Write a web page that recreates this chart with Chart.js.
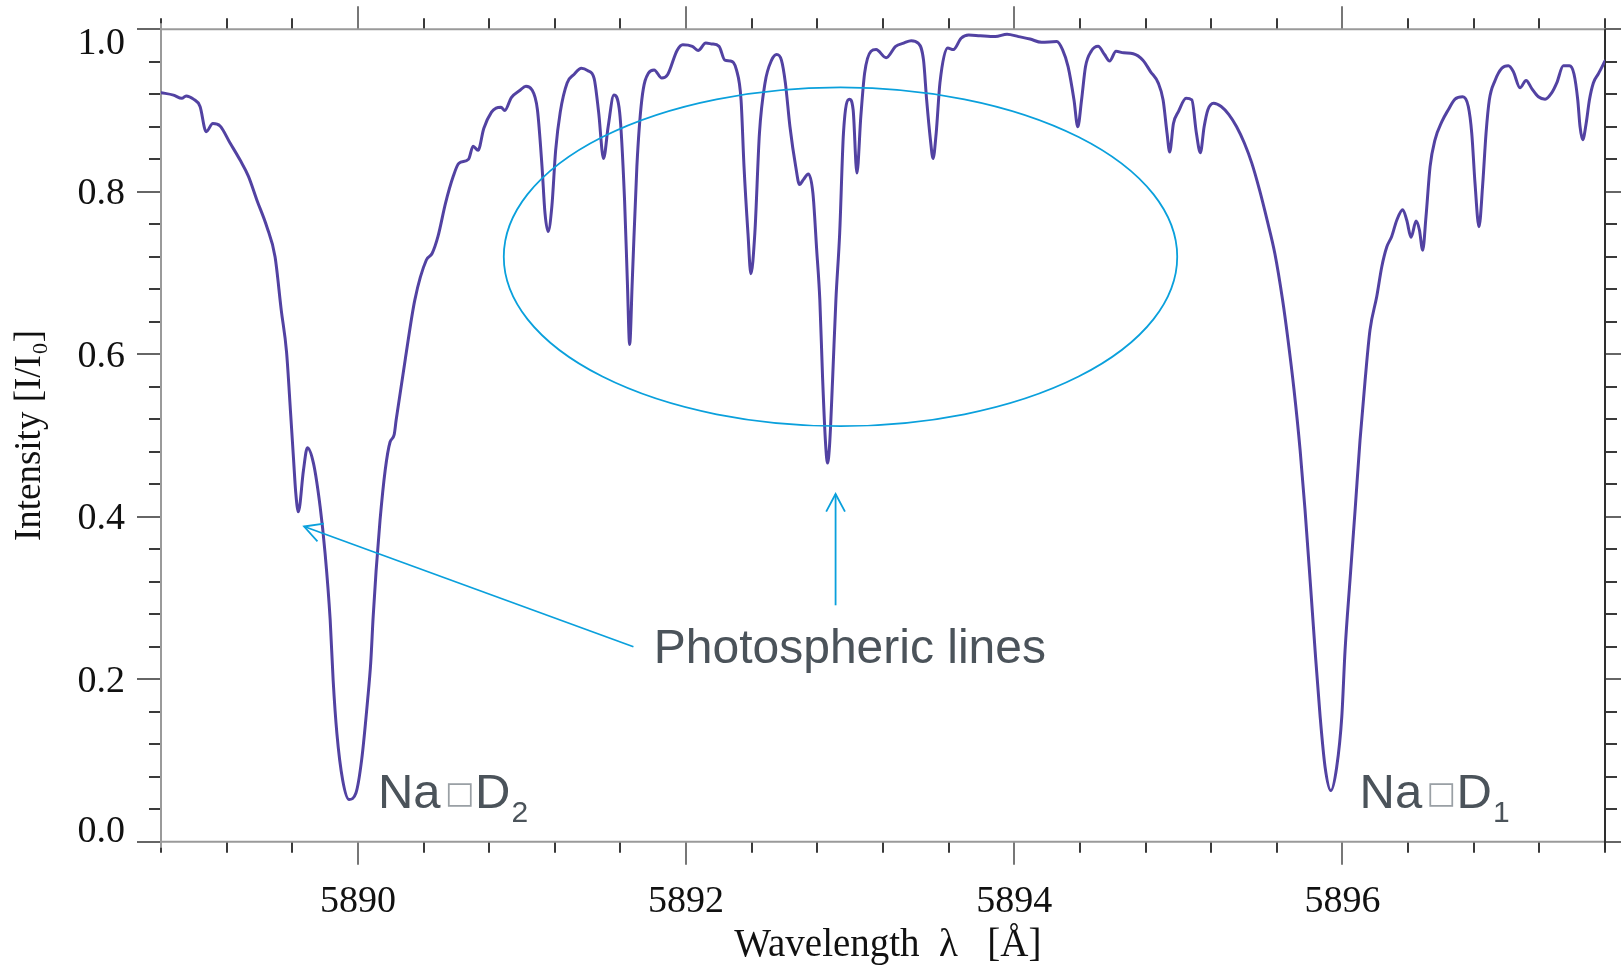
<!DOCTYPE html>
<html><head><meta charset="utf-8">
<script src="https://cdn.jsdelivr.net/npm/chart.js@4.4.1/dist/chart.umd.min.js"></script>
<style>html,body{margin:0;padding:0;background:#fff;}canvas{display:block;}</style>
</head><body>
<canvas id="c" width="1621" height="966"></canvas>
<script>
// ---- data ----
const wavelength = [
5888.80,5888.876,5888.927,5888.953,5888.998,5889.038,5889.075,5889.116,5889.160,5889.221,
5889.282,5889.333,5889.384,5889.445,5889.495,5889.533,5889.565,5889.590,5889.608,5889.621,5889.637,
5889.668,5889.692,5889.729,5889.770,5889.800,5889.831,5889.849,5889.872,5889.907,5889.946,
5889.988,5890.023,5890.059,5890.078,5890.093,5890.111,5890.135,5890.166,5890.196,5890.221,
5890.233,5890.288,5890.347,5890.417,5890.452,5890.488,5890.534,5890.581,5890.615,5890.674,
5890.702,5890.732,5890.767,5890.814,5890.842,5890.872,5890.895,5890.935,5890.988,5891.024,
5891.059,5891.094,5891.122,5891.140,5891.159,5891.182,5891.205,5891.233,5891.275,5891.315,
5891.362,5891.402,5891.439,5891.467,5891.497,5891.525,5891.560,5891.595,5891.625,5891.642,
5891.656,5891.672,5891.700,5891.730,5891.770,5891.805,5891.852,5891.887,5891.945,5891.980,
5892.038,5892.073,5892.120,5892.155,5892.201,5892.236,5892.271,5892.307,5892.335,5892.353,
5892.377,5892.395,5892.419,5892.447,5892.481,5892.521,5892.552,5892.581,5892.605,5892.633,
5892.668,5892.691,5892.715,5892.745,5892.773,5892.796,5892.815,5892.832,5892.850,5892.862,
5892.875,5892.893,5892.913,5892.936,5892.959,5892.995,5893.018,5893.041,5893.065,5893.088,
5893.127,5893.158,5893.219,5893.277,5893.326,5893.372,5893.414,5893.447,5893.466,5893.489,
5893.505,5893.524,5893.547,5893.594,5893.629,5893.676,5893.722,5893.792,5893.885,5893.956,
5894.026,5894.096,5894.166,5894.259,5894.294,5894.328,5894.364,5894.387,5894.410,5894.434,
5894.469,5894.511,5894.550,5894.581,5894.620,5894.667,5894.725,5894.784,5894.830,5894.877,
5894.907,5894.931,5894.947,5894.970,5895.001,5895.047,5895.082,5895.110,5895.134,5895.157,
5895.180,5895.215,5895.261,5895.308,5895.355,5895.402,5895.448,5895.495,5895.541,5895.588,
5895.635,5895.668,5895.705,5895.742,5895.772,5895.803,5895.833,5895.864,5895.894,5895.929,
5895.965,5895.996,5896.016,5896.046,5896.077,5896.107,5896.138,5896.168,5896.209,5896.240,
5896.270,5896.300,5896.331,5896.367,5896.392,5896.418,5896.449,5896.469,5896.489,5896.509,
5896.534,5896.564,5896.605,5896.645,5896.686,5896.733,5896.767,5896.788,5896.808,5896.832,
5896.855,5896.875,5896.895,5896.930,5896.971,5897.011,5897.041,5897.082,5897.119,5897.154,
5897.194,5897.235,5897.276,5897.306,5897.346,5897.383,5897.411,5897.434,5897.448,5897.464,
5897.485,5897.505,5897.529,5897.559,5897.600
];
const intensity = [
0.922,0.919,0.915,0.918,0.914,0.905,0.874,0.884,0.881,0.860,
0.839,0.819,0.790,0.757,0.720,0.654,0.603,0.527,0.470,0.430,0.406,
0.457,0.485,0.466,0.412,0.355,0.273,0.199,0.133,0.076,0.052,
0.060,0.101,0.174,0.220,0.277,0.334,0.396,0.457,0.492,0.501,
0.519,0.593,0.667,0.716,0.724,0.745,0.786,0.819,0.835,0.840,
0.856,0.851,0.878,0.898,0.903,0.904,0.900,0.916,0.925,0.930,
0.926,0.901,0.831,0.774,0.751,0.782,0.851,0.898,0.934,0.944,
0.952,0.949,0.940,0.898,0.841,0.880,0.919,0.898,0.790,0.690,
0.612,0.690,0.831,0.913,0.946,0.950,0.940,0.944,0.974,0.981,
0.979,0.974,0.983,0.982,0.979,0.962,0.961,0.950,0.913,0.831,
0.749,0.699,0.749,0.872,0.934,0.962,0.969,0.962,0.934,0.880,
0.831,0.809,0.815,0.822,0.798,0.728,0.667,0.570,0.490,0.466,
0.490,0.570,0.667,0.749,0.872,0.914,0.901,0.823,0.893,0.946,
0.973,0.975,0.965,0.979,0.983,0.986,0.983,0.962,0.913,0.864,
0.841,0.872,0.934,0.977,0.975,0.989,0.993,0.992,0.991,0.994,
0.991,0.988,0.984,0.985,0.975,0.954,0.913,0.880,0.913,0.954,
0.973,0.979,0.969,0.961,0.973,0.971,0.970,0.962,0.948,0.934,
0.913,0.872,0.849,0.884,0.899,0.915,0.913,0.872,0.848,0.880,
0.901,0.909,0.905,0.895,0.880,0.860,0.835,0.802,0.765,0.724,
0.667,0.618,0.556,0.482,0.408,0.322,0.236,0.154,0.092,0.063,
0.092,0.154,0.236,0.322,0.408,0.494,0.568,0.630,0.671,0.708,
0.732,0.745,0.765,0.778,0.765,0.744,0.764,0.753,0.728,0.769,
0.831,0.864,0.886,0.901,0.914,0.917,0.905,0.872,0.810,0.757,
0.810,0.872,0.913,0.937,0.952,0.955,0.948,0.928,0.937,0.927,
0.917,0.914,0.922,0.934,0.955,0.955,0.945,0.913,0.880,0.864,
0.884,0.913,0.934,0.945,0.961
];
const xTickLabels = [5890, 5892, 5894, 5896];
const yTickLabels = [0.0, 0.2, 0.4, 0.6, 0.8, 1.0];
const xRange = [5888.8, 5897.6];
const yRange = [0, 1];
const xMinorStep = 0.4;
const yMinorStep = 0.04;
const xTitle = ' Wavelength  \u03bb   [\u00c5]';
const yTitle = 'Intensity [I/I\u2080]';
const calloutText = 'Photospheric lines';
const lineNames = [
  {main: 'Na', sep: '\u25a1', ion: 'D', sub: '2'},
  {main: 'Na', sep: '\u25a1', ion: 'D', sub: '1'}
];

// ---- annotation placement (data units) ----
const annot = {
  ellipse: {cx: 5892.941, cy: 0.720, rx: 2.052, ry: 0.2085},
  arrows: [
    {from: [5891.679, 0.240], to: [5889.672, 0.388]},
    {from: [5892.911, 0.291], to: [5892.911, 0.428]}
  ],
  callout: {x: 5891.803, y: 0.220},
  lineLabels: [{x: 5890.122, y: 0.041}, {x: 5896.104, y: 0.041}]
};

const LINE_COLOR = '#5242a2';
const CYAN = '#0aa0dc';
const TEXT_GRAY = '#4b535a';
const SANS = '"Liberation Sans", Arial, sans-serif';

const decor = {
  id: 'decor',
  beforeDatasetsDraw(chart) {
    const {ctx, chartArea: a, scales: {x, y}} = chart;
    ctx.save();
    const seg = (x1, y1, x2, y2) => { ctx.beginPath(); ctx.moveTo(x1, y1); ctx.lineTo(x2, y2); ctx.stroke(); };
    ctx.lineWidth = 2;
    const nx = Math.round((xRange[1] - xRange[0]) / xMinorStep);
    for (let i = 0; i <= nx; i++) {
      const v = xRange[0] + i * xMinorStep;
      const px = Math.round(x.getPixelForValue(v));
      const major = xTickLabels.some(t => Math.abs(t - v) < 1e-6);
      const L = major ? 23 : 11;
      ctx.strokeStyle = major ? '#777' : '#3a3a3a';
      seg(px, a.bottom, px, a.bottom + L);
      seg(px, a.top, px, a.top - L);
    }
    const ny = Math.round((yRange[1] - yRange[0]) / yMinorStep);
    for (let i = 0; i <= ny; i++) {
      const v = yRange[0] + i * yMinorStep;
      const py = Math.round(y.getPixelForValue(v));
      const major = yTickLabels.some(t => Math.abs(t - v) < 1e-6);
      const L = major ? 24 : 12;
      ctx.strokeStyle = major ? '#666' : '#3a3a3a';
      seg(a.left - L, py, a.left, py);
      seg(a.right, py, a.right + L, py);
    }
    ctx.strokeStyle = '#9a9a9a';
    seg(a.left, a.top, a.right, a.top);
    seg(a.left, a.bottom, a.right, a.bottom);
    seg(a.left, a.top - 6, a.left, a.bottom + 6);
    ctx.strokeStyle = '#2e2e2e';
    seg(a.right, a.top, a.right, a.bottom + 8);
    ctx.restore();
  },
  afterDatasetsDraw(chart) {
    const {ctx, chartArea: a, scales: {x, y}} = chart;
    ctx.save();
    // y tick labels (end labels kept inside the axis span)
    ctx.fillStyle = '#111';
    ctx.font = '38px "Liberation Serif", "Times New Roman", serif';
    ctx.textAlign = 'right';
    ctx.textBaseline = 'alphabetic';
    yTickLabels.forEach((v, i) => {
      const py = y.getPixelForValue(v);
      let base = py + 12.5;
      if (i === yTickLabels.length - 1) base = py + 24.5;
      if (i === 0) base = py;
      ctx.fillText(v.toFixed(1), a.left - 36, base);
    });
    // ellipse
    const e = annot.ellipse;
    const ecx = x.getPixelForValue(e.cx), ecy = y.getPixelForValue(e.cy);
    const erx = x.getPixelForValue(e.cx + e.rx) - ecx;
    const ery = ecy - y.getPixelForValue(e.cy + e.ry);
    ctx.strokeStyle = CYAN;
    ctx.lineWidth = 1.8;
    ctx.beginPath();
    ctx.ellipse(ecx, ecy, erx, ery, 0, 0, Math.PI * 2);
    ctx.stroke();
    // arrows
    annot.arrows.forEach(ar => {
      const x1 = x.getPixelForValue(ar.from[0]), y1 = y.getPixelForValue(ar.from[1]);
      const x2 = x.getPixelForValue(ar.to[0]), y2 = y.getPixelForValue(ar.to[1]);
      ctx.beginPath(); ctx.moveTo(x1, y1); ctx.lineTo(x2, y2); ctx.stroke();
      const ang = Math.atan2(y1 - y2, x1 - x2);
      const L = 20, h = 28 * Math.PI / 180;
      ctx.beginPath();
      ctx.moveTo(x2 + L * Math.cos(ang - h), y2 + L * Math.sin(ang - h));
      ctx.lineTo(x2, y2);
      ctx.lineTo(x2 + L * Math.cos(ang + h), y2 + L * Math.sin(ang + h));
      ctx.stroke();
    });
    // callout text
    ctx.fillStyle = TEXT_GRAY;
    ctx.textAlign = 'left';
    ctx.font = '48px ' + SANS;
    ctx.fillText(calloutText, x.getPixelForValue(annot.callout.x), y.getPixelForValue(annot.callout.y));
    // Na D labels
    lineNames.forEach((nm, i) => {
      const p = annot.lineLabels[i];
      const bx = x.getPixelForValue(p.x), by = y.getPixelForValue(p.y);
      ctx.fillStyle = TEXT_GRAY;
      ctx.font = '49px ' + SANS;
      ctx.fillText(nm.main, bx, by);
      ctx.font = '100px "DejaVu Sans", sans-serif';
      const m = ctx.measureText(nm.sep);
      const h100 = m.actualBoundingBoxAscent + m.actualBoundingBoxDescent;
      const fs = 100 * 24 / h100;
      ctx.font = fs.toFixed(1) + 'px "DejaVu Sans", sans-serif';
      const m2 = ctx.measureText(nm.sep);
      ctx.fillStyle = '#9aa0a5';
      ctx.fillText(nm.sep, bx + 69 + m2.actualBoundingBoxLeft, by - 1 - m2.actualBoundingBoxDescent);
      ctx.fillStyle = TEXT_GRAY;
      ctx.font = '49px ' + SANS;
      ctx.fillText(nm.ion, bx + 97, by);
      ctx.font = '30px ' + SANS;
      ctx.fillText(nm.sub, bx + 133.5, by + 13.4);
    });
    ctx.restore();
  }
};

const serif = '"Liberation Serif", "Times New Roman", serif';

new Chart(document.getElementById('c'), {
  type: 'line',
  data: {
    datasets: [{
      data: wavelength.map((w, i) => ({x: w, y: intensity[i]})),
      borderColor: LINE_COLOR,
      borderWidth: 3,
      pointRadius: 0,
      cubicInterpolationMode: 'monotone',
      borderJoinStyle: 'round',
      borderCapStyle: 'round',
      fill: false
    }]
  },
  options: {
    responsive: false,
    animation: false,
    devicePixelRatio: 1,
    layout: {padding: {left: 0, right: 16, top: 29.3, bottom: 0}},
    plugins: {legend: {display: false}, tooltip: {enabled: false}},
    scales: {
      x: {
        type: 'linear',
        min: xRange[0], max: xRange[1],
        afterBuildTicks: s => { s.ticks = xTickLabels.map(v => ({value: v})); },
        afterFit: s => { s.height = 124.3; },
        grid: {display: true, drawOnChartArea: false, drawTicks: true, tickLength: 23, color: 'rgba(0,0,0,0)'},
        border: {display: false},
        ticks: {
          padding: 15, maxRotation: 0, autoSkip: false, color: '#111',
          font: {family: serif, size: 38},
          callback: v => String(v)
        },
        title: {
          display: true, text: xTitle, color: '#111',
          font: {family: serif, size: 39, lineHeight: 1},
          padding: {top: 0, bottom: 1}
        }
      },
      y: {
        type: 'linear',
        min: yRange[0], max: yRange[1],
        afterFit: s => { s.width = 161; },
        grid: {display: false},
        border: {display: false},
        ticks: {display: false, stepSize: 0.2},
        title: {
          display: true, text: yTitle, color: '#111',
          font: {family: serif, size: 37, lineHeight: 1},
          padding: {top: 12, bottom: 0}
        }
      }
    }
  },
  plugins: [decor]
});
</script>
</body></html>
